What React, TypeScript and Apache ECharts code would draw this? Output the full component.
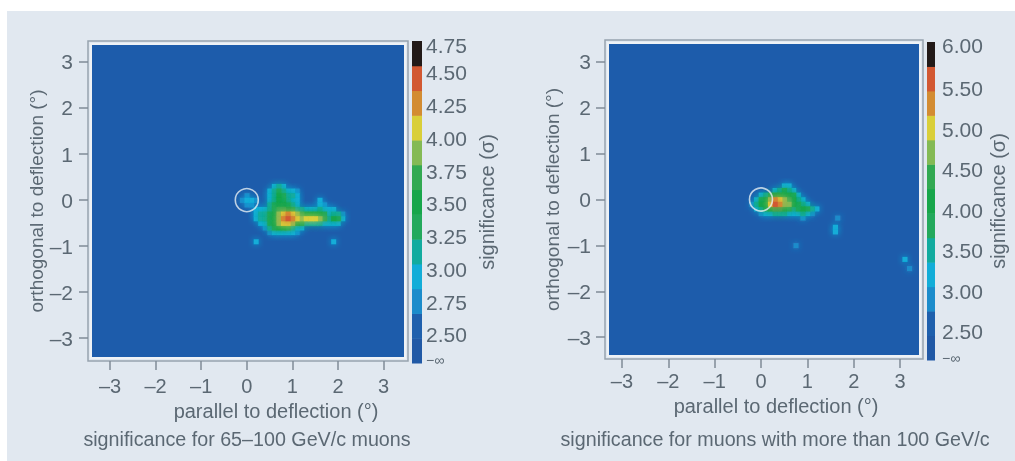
import React, { useEffect, useRef } from "react";
import * as echarts from "echarts";

const FONT = "'Liberation Sans', Arial, sans-serif";
const TEXT = "#5b6873";
const AXIS = "#7f8b97";

const binColors = ["#2159a6", "#1f60ad", "#1c8ccb", "#12add8", "#12ab9f", "#23a95c", "#17a64b", "#32a952", "#84ba55", "#d9cf3a", "#d38c32", "#d25832", "#221a18"];
const axisTicks = [-3, -2, -1, 0, 1, 2, 3];
const circleCenter = [[0, 0]];

const leftTickValues = [2.31, 2.5, 2.75, 3.0, 3.25, 3.5, 3.75, 4.0, 4.25, 4.5, 4.71];
const leftTickLabels = ["−∞", "2.50", "2.75", "3.00", "3.25", "3.50", "3.75", "4.00", "4.25", "4.50", "4.75"];
const rightTickValues = [2.18, 2.5, 3.0, 3.5, 4.0, 4.5, 5.0, 5.5, 6.04];
const rightTickLabels = ["−∞", "2.50", "3.00", "3.50", "4.00", "4.50", "5.00", "5.50", "6.00"];

// significance, cells of 0.1 deg; 0 = below the lowest bin shown
const leftX = [-0.2, -0.1, 0, 0.1, 0.2, 0.3, 0.4, 0.5, 0.6, 0.7, 0.8, 0.9, 1.0, 1.1, 1.2, 1.3, 1.4, 1.5, 1.6, 1.7, 1.8, 1.9, 2.0, 2.1];
const leftY = [0.3, 0.2, 0.1, 0, -0.1, -0.2, -0.3, -0.4, -0.5, -0.6, -0.7, -0.8, -0.9];
const leftSig = [
  [0, 0, 0, 0, 0, 0, 0, 0, 2.95, 3.14, 2.95, 0, 0, 0, 0, 0, 0, 0, 0, 0, 0, 0, 0, 0],
  [0, 0, 0, 0, 0, 0, 0, 2.95, 3.14, 3.33, 3.14, 2.95, 2.95, 2.76, 0, 0, 0, 0, 0, 0, 0, 0, 0, 0],
  [0, 0, 2.76, 0, 0, 0, 0, 2.95, 3.14, 3.51, 3.33, 3.14, 3.14, 2.95, 0, 0, 0, 0, 0, 0, 0, 0, 0, 0],
  [0, 2.76, 2.95, 2.95, 2.76, 0, 0, 2.95, 3.14, 3.51, 3.33, 3.14, 2.95, 2.95, 0, 0, 0, 0, 2.95, 0, 0, 0, 0, 0],
  [0, 0, 2.76, 2.76, 0, 0, 0, 3.14, 3.33, 3.51, 3.51, 3.33, 3.14, 2.95, 0, 0, 0, 0, 2.95, 2.76, 0, 0, 0, 0],
  [0, 0, 0, 0, 2.95, 2.95, 2.95, 3.14, 3.33, 3.7, 3.7, 3.51, 3.33, 3.14, 3.14, 2.95, 2.95, 2.95, 3.14, 2.95, 2.95, 2.95, 0, 0],
  [0, 0, 0, 0, 2.95, 3.14, 3.14, 3.33, 3.51, 3.89, 4.08, 4.27, 4.08, 3.89, 3.7, 3.51, 3.51, 3.51, 3.51, 3.33, 2.95, 3.14, 3.14, 2.76],
  [0, 0, 0, 0, 2.95, 3.14, 3.14, 3.33, 3.51, 3.89, 4.27, 4.45, 4.27, 4.08, 3.89, 4.08, 4.08, 4.08, 3.89, 3.7, 3.14, 3.51, 3.33, 2.95],
  [0, 0, 0, 0, 0, 2.95, 2.95, 3.33, 3.51, 3.89, 4.08, 4.08, 3.89, 3.51, 3.33, 3.14, 3.14, 3.14, 3.14, 2.95, 2.95, 2.95, 2.95, 0],
  [0, 0, 0, 0, 0, 0, 2.76, 3.14, 3.33, 3.51, 3.51, 3.33, 3.14, 2.95, 2.95, 0, 0, 0, 0, 0, 0, 0, 0, 0],
  [0, 0, 0, 0, 0, 0, 0, 2.76, 2.95, 2.95, 2.95, 2.95, 2.95, 2.76, 0, 0, 0, 0, 0, 0, 0, 0, 0, 0],
  [0, 0, 0, 0, 0, 0, 0, 0, 0, 0, 0, 0, 0, 0, 0, 0, 0, 0, 0, 0, 0, 0, 0, 0],
  [0, 0, 0, 0, 2.95, 0, 0, 0, 0, 0, 0, 0, 0, 0, 0, 0, 0, 0, 0, 0, 0, 2.95, 0, 0],
];

const rightX = [-0.2, -0.1, 0, 0.1, 0.2, 0.3, 0.4, 0.5, 0.6, 0.7, 0.8, 0.9, 1.0, 1.1, 1.2];
const rightY = [0.3, 0.2, 0.1, 0, -0.1, -0.2, -0.3, -0.4];
const rightSig = [
  [0, 0, 0, 0, 0, 0, 0, 3.2, 3.2, 0, 0, 0, 0, 0, 0],
  [0, 0, 0, 0, 0, 3.2, 3.5, 3.8, 3.5, 3.2, 0, 0, 0, 0, 0],
  [0, 0, 3.2, 3.5, 3.8, 4.1, 4.1, 4.1, 4.1, 3.8, 3.2, 0, 0, 0, 0],
  [0, 3.2, 3.8, 4.1, 4.7, 5.3, 5.0, 4.7, 4.4, 4.1, 3.5, 3.2, 0, 0, 0],
  [2.9, 3.5, 4.1, 4.1, 5.0, 5.6, 5.3, 4.7, 4.7, 4.1, 3.8, 3.5, 3.2, 0, 0],
  [0, 3.2, 3.5, 3.8, 4.1, 4.4, 4.4, 4.1, 3.8, 3.5, 3.8, 4.1, 3.8, 3.5, 3.2],
  [0, 0, 2.9, 3.2, 3.2, 3.5, 3.5, 3.5, 3.2, 3.2, 3.2, 3.5, 3.2, 2.9, 0],
  [0, 0, 0, 0, 0, 0, 0, 0, 0, 0, 0, 2.9, 0, 0, 0],
];
const rightSpotX = [1.65, 1.6, 1.6, 0.75, 3.1, 3.2];
const rightSpotY = [-0.4, -0.6, -0.7, -1.0, -1.3, -1.5];
const rightSpotSig = [2.9, 3.2, 3.2, 2.9, 3.2, 2.9];

const toCells = (xs: number[], ys: number[], m: number[][]) => {
  const out: number[][] = [];
  ys.forEach((y, r) => xs.forEach((x, c) => { if (m[r][c] > 0) out.push([x, y, m[r][c]]); }));
  return out.sort((p, q) => p[2] - q[2]);
};

const cellRender = (lo: number, hi: number) => (_: any, api: any) => {
  const x = api.value(0), y = api.value(1), v = api.value(2);
  const a = api.coord([x - 0.05, y + 0.05]);
  const b = api.coord([x + 0.05, y - 0.05]);
  const i = Math.max(0, Math.min(12, Math.floor(((v - lo) / (hi - lo)) * 13)));
  const fill = binColors[i];
  return { type: "rect", shape: { x: a[0], y: a[1], width: b[0] - a[0] + 0.5, height: b[1] - a[1] + 0.5 }, style: { fill, shadowBlur: 6, shadowColor: fill } };
};

const barRender = (lo: number, hi: number) => (_: any, api: any) => {
  const i = api.value(0);
  const step = (hi - lo) / 13;
  const a = api.coord([0, lo + (i + 1) * step]);
  const b = api.coord([1, lo + i * step]);
  return { type: "rect", shape: { x: a[0], y: a[1], width: b[0] - a[0], height: b[1] - a[1] + 0.5 }, style: { fill: binColors[i] } };
};

const dash = (v: number) => String(v).replace("-", "–");

const plotX = (gridIndex: number, min: number, max: number, nameShift: number, nameGap: number, margin: number) => ({
  type: "value", gridIndex, min, max, offset: 3, position: "bottom",
  name: "parallel to deflection (°)", nameLocation: "middle", nameGap,
  nameTextStyle: { color: TEXT, fontFamily: FONT, fontSize: 20, padding: [0, 0, 0, nameShift] },
  splitLine: { show: false }, axisLine: { show: false, onZero: false },
  axisTick: { show: true, length: 9, lineStyle: { color: AXIS, width: 1.5 }, customValues: axisTicks },
  axisLabel: { color: TEXT, fontFamily: FONT, fontSize: 20, margin, customValues: axisTicks, formatter: dash, showMinLabel: true, showMaxLabel: true },
});
const plotY = (gridIndex: number, min: number, max: number, nameGap: number, margin: number) => ({
  type: "value", gridIndex, min, max, offset: 3, position: "left",
  name: "orthogonal to deflection (°)", nameLocation: "middle", nameGap,
  nameTextStyle: { color: TEXT, fontFamily: FONT, fontSize: 19 },
  splitLine: { show: false }, axisLine: { show: false, onZero: false },
  axisTick: { show: true, length: 9, lineStyle: { color: AXIS, width: 1.5 }, customValues: axisTicks },
  axisLabel: { color: TEXT, fontFamily: FONT, fontSize: 21, margin, customValues: axisTicks, formatter: dash },
});
const barX = (gridIndex: number) => ({ type: "value", gridIndex, min: 0, max: 1, show: false, splitLine: { show: false } });
const barY = (gridIndex: number, min: number, max: number, values: number[], labels: string[], nameGap: number, margin: number) => ({
  type: "value", gridIndex, min, max, position: "right",
  name: "significance (σ)", nameLocation: "middle", nameGap,
  nameTextStyle: { color: TEXT, fontFamily: FONT, fontSize: 20 },
  splitLine: { show: false }, axisLine: { show: false, onZero: false }, axisTick: { show: false },
  axisLabel: {
    color: TEXT, fontFamily: FONT, fontSize: 21, margin, customValues: values,
    formatter: (v: number) => {
      const s = labels[values.indexOf(v)] ?? "";
      return s === "−∞" ? "{s|−∞}" : s;
    },
    rich: { s: { fontSize: 14, color: TEXT, fontFamily: FONT } },
  },
});

const L_MIN = 2.286, L_MAX = 4.744, R_MIN = 2.154, R_MAX = 6.08;
const LEFT_CELL_LO = 2.294, LEFT_CELL_HI = 4.738, RIGHT_CELL_LO = 2.16, RIGHT_CELL_HI = 6.04;
const binIndex = binColors.map((_, i) => [i]);

const frame = (x: number, y: number, w: number, h: number) => ({
  type: "rect", shape: { x, y, width: w, height: h }, silent: true,
  style: { fill: "none", stroke: "#97a3ae", lineWidth: 1.5 },
});
const caption = (text: string, x: number, y: number) => ({
  type: "text", x, y, style: { text, fill: TEXT, fontFamily: FONT, fontSize: 19.7, align: "center", verticalAlign: "middle" },
});

export default function App() {
  const ref = useRef<HTMLDivElement>(null);
  useEffect(() => {
    const chart = echarts.init(ref.current!, undefined, { renderer: "svg" });
    const gridCommon = { show: true, containLabel: false };
    chart.setOption({
      animation: false,
      backgroundColor: "transparent",
      grid: [
        { ...gridCommon, left: 91, top: 44, width: 314, height: 314, backgroundColor: "#1d5cab", borderColor: "#eef2f6", borderWidth: 2 },
        { left: 412, top: 41, width: 10, height: 322 },
        { ...gridCommon, left: 608, top: 43, width: 312, height: 313, backgroundColor: "#1d5cab", borderColor: "#eef2f6", borderWidth: 2 },
        { left: 927, top: 42, width: 8, height: 318 },
      ],
      xAxis: [plotX(0, -3.417, 3.47, 56, 31, 15), barX(1), plotX(2, -3.3, 3.43, 24, 37, 12), barX(3)],
      yAxis: [
        plotY(0, -3.43, 3.39, 41, 15),
        barY(1, L_MIN, L_MAX, leftTickValues, leftTickLabels, 55, 4),
        plotY(2, -3.41, 3.41, 43, 14),
        barY(3, R_MIN, R_MAX, rightTickValues, rightTickLabels, 53, 7),
      ],
      series: [
        { type: "custom", xAxisIndex: 0, yAxisIndex: 0, clip: true, renderItem: cellRender(LEFT_CELL_LO, LEFT_CELL_HI), encode: { x: 0, y: 1 }, data: toCells(leftX, leftY, leftSig) },
        { type: "custom", xAxisIndex: 2, yAxisIndex: 2, clip: true, renderItem: cellRender(RIGHT_CELL_LO, RIGHT_CELL_HI), encode: { x: 0, y: 1 }, data: [...rightSpotX.map((x, i) => [x, rightSpotY[i], rightSpotSig[i]]), ...toCells(rightX, rightY, rightSig)] },
        { type: "custom", xAxisIndex: 1, yAxisIndex: 1, renderItem: barRender(L_MIN, L_MAX), encode: { y: 0 }, data: binIndex },
        { type: "custom", xAxisIndex: 3, yAxisIndex: 3, renderItem: barRender(R_MIN, R_MAX), encode: { y: 0 }, data: binIndex },
        { type: "scatter", xAxisIndex: 0, yAxisIndex: 0, z: 5, symbolSize: 23, data: circleCenter, itemStyle: { color: "transparent", borderColor: "#e6edf3", borderWidth: 1.6 } },
        { type: "scatter", xAxisIndex: 2, yAxisIndex: 2, z: 5, symbolSize: 23, data: circleCenter, itemStyle: { color: "transparent", borderColor: "#e6edf3", borderWidth: 1.6 } },
      ],
      graphic: [
        frame(88, 41, 320, 320),
        frame(605, 40, 318, 319),
        caption("significance for 65–100 GeV/c muons", 247, 439),
        caption("significance for muons with more than 100 GeV/c", 775, 439),
      ],
    });
    return () => chart.dispose();
  }, []);
  return (
    <div style={{ position: "absolute", left: 0, top: 0, width: 1015, height: 461, background: "#fff", overflow: "hidden" }}>
      <div style={{ position: "absolute", left: 7, top: 11, width: 1008, height: 450, background: "#e1e8f0" }} />
      <div ref={ref} style={{ position: "absolute", left: 0, top: 0, width: 1015, height: 461, filter: "blur(0.6px)" }} />
    </div>
  );
}
